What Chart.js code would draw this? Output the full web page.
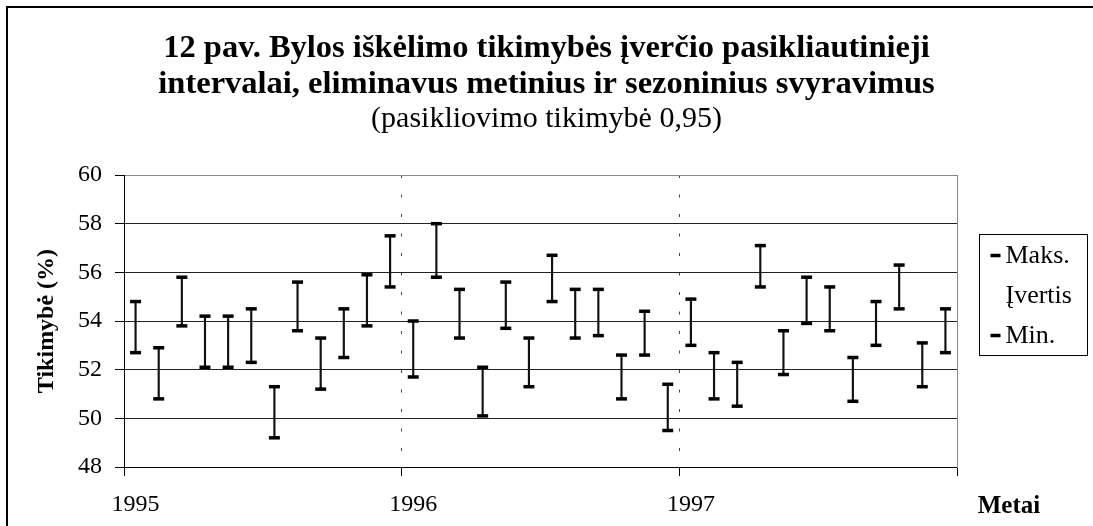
<!DOCTYPE html>
<html>
<head>
<meta charset="utf-8">
<script src="https://cdn.jsdelivr.net/npm/chart.js@4.4.1/dist/chart.umd.min.js"></script>
<style>
  html, body { margin: 0; padding: 0; background: #fff; overflow: hidden; }
  #frame { position: absolute; left: 6px; top: 6px; width: 1120px; height: 560px;
           border-left: 2px solid #000; border-top: 2px solid #000; }
  #wrap { position: absolute; left: 0; top: 0; width: 1093px; height: 526px; }
</style>
</head>
<body>
<div id="frame"></div>
<div id="wrap"><canvas id="c"></canvas></div>
<script>
const categories = [
  '1995-01','1995-02','1995-03','1995-04','1995-05','1995-06','1995-07','1995-08','1995-09','1995-10','1995-11','1995-12',
  '1996-01','1996-02','1996-03','1996-04','1996-05','1996-06','1996-07','1996-08','1996-09','1996-10','1996-11','1996-12',
  '1997-01','1997-02','1997-03','1997-04','1997-05','1997-06','1997-07','1997-08','1997-09','1997-10','1997-11','1997-12'
];
const yearLabels = ['1995', '1996', '1997'];
const maxValues = [54.8, 52.9, 55.8, 54.2, 54.2, 54.5, 51.3, 55.6, 53.3, 54.5, 55.9, 57.5,
                   54.0, 58.0, 55.3, 52.1, 55.6, 53.3, 56.7, 55.3, 55.3, 52.6, 54.4, 51.4,
                   54.9, 52.7, 52.3, 57.1, 53.6, 55.8, 55.4, 52.5, 54.8, 56.3, 53.1, 54.5];
const minValues = [52.7, 50.8, 53.8, 52.1, 52.1, 52.3, 49.2, 53.6, 51.2, 52.5, 53.8, 55.4,
                   51.7, 55.8, 53.3, 50.1, 53.7, 51.3, 54.8, 53.3, 53.4, 50.8, 52.6, 49.5,
                   53.0, 50.8, 50.5, 55.4, 51.8, 53.9, 53.6, 50.7, 53.0, 54.5, 51.3, 52.7];
const yTicks = { min: 48, max: 60, step: 2 };
const titleLines = ['12 pav. Bylos iškėlimo tikimybės įverčio pasikliautinieji',
                    'intervalai, eliminavus metinius ir sezoninius svyravimus'];
const subtitleText = '(pasikliovimo tikimybė 0,95)';
const yTitle = 'Tikimybė (%)';
const xTitle = 'Metai';

const SERIF = "'Liberation Serif', 'Times New Roman', serif";

const legendAndAxisText = {
  id: 'legendAndAxisText',
  afterDraw(chart) {
    const ctx = chart.ctx;
    const ca = chart.chartArea;
    ctx.save();
    const bx = ca.right + 22.5, by = ca.top + 59.5, bw = 108, bh = 121;
    ctx.strokeStyle = '#000';
    ctx.lineWidth = 1;
    ctx.strokeRect(bx, by, bw, bh);
    ctx.font = '26px ' + SERIF;
    ctx.fillStyle = '#000';
    ctx.textBaseline = 'middle';
    ctx.textAlign = 'left';
    chart.data.datasets.forEach((ds, i) => {
      const cy = by + 21 + i * 40;
      if (ds.type === 'line') {
        ctx.beginPath();
        ctx.lineWidth = 3.5;
        ctx.moveTo(bx + 11, cy);
        ctx.lineTo(bx + 21, cy);
        ctx.stroke();
      }
      ctx.fillText(ds.label, bx + 26, cy + 1);
    });
    ctx.font = 'bold 25px ' + SERIF;
    ctx.textAlign = 'center';
    ctx.textBaseline = 'alphabetic';
    ctx.fillText(xTitle, ca.right + 52, ca.bottom + 46);
    ctx.restore();
  }
};

new Chart(document.getElementById('c'), {
  data: {
    labels: categories,
    datasets: [
      { type: 'line', label: 'Maks.', data: maxValues, showLine: false, order: 0,
        pointStyle: 'line', pointRadius: 5.5, pointHoverRadius: 5.5,
        pointBorderWidth: 3.5, pointHoverBorderWidth: 3.5,
        borderColor: '#000', backgroundColor: '#000' },
      { type: 'bar', label: 'Įvertis', data: minValues.map((v, i) => [v, maxValues[i]]), order: 1,
        barThickness: 1.5, backgroundColor: '#111', borderWidth: 0 },
      { type: 'line', label: 'Min.', data: minValues, showLine: false, order: 0,
        pointStyle: 'line', pointRadius: 5.5, pointHoverRadius: 5.5,
        pointBorderWidth: 3.5, pointHoverBorderWidth: 3.5,
        borderColor: '#000', backgroundColor: '#000' }
    ]
  },
  options: {
    responsive: true,
    maintainAspectRatio: false,
    animation: false,
    events: [],
    layout: { padding: { top: 31, left: 0, right: 0, bottom: 0 } },
    plugins: {
      legend: { display: false },
      tooltip: { enabled: false },
      title: {
        display: true, text: titleLines, color: '#000',
        font: { family: SERIF, size: 32.5, weight: 'bold', lineHeight: 1.108 },
        padding: { top: 0, bottom: 0 }
      },
      subtitle: {
        display: true, text: subtitleText, color: '#000',
        font: { family: SERIF, size: 30, weight: 'normal', lineHeight: 1.1 },
        padding: { top: 0, bottom: 39 }
      }
    },
    scales: {
      x: {
        type: 'category', position: 'bottom', offset: true,
        grid: {
          offset: true,
          color: c => (c.index === 12 || c.index === 24) ? '#444' : 'transparent',
          tickColor: c => (c.index === undefined || c.index % 12 === 0) ? '#000' : 'transparent',
          tickLength: 9, lineWidth: 1
        },
        border: { color: '#000', width: 1, dash: [3, 16.5] },
        ticks: {
          autoSkip: false, maxRotation: 0, minRotation: 0, padding: 14, color: '#000',
          font: { family: SERIF, size: 24 },
          callback: (v, i) => (i % 12 === 0 ? yearLabels[i / 12] : '')
        },
        afterFit: s => { s.height = 59; }
      },
      y: {
        position: 'left', min: yTicks.min, max: yTicks.max,
        grid: {
          color: c => (c.tick && c.tick.value === yTicks.max) ? '#888' : '#222',
          tickColor: '#000', tickLength: 9, lineWidth: 1
        },
        border: { color: '#000', width: 1 },
        ticks: { stepSize: yTicks.step, padding: 13, color: '#000', font: { family: SERIF, size: 24 } },
        title: {
          display: true, text: yTitle, color: '#000',
          font: { family: SERIF, size: 24, weight: 'bold', lineHeight: 1.2 },
          padding: { top: 32, bottom: 0 }
        },
        afterFit: s => { s.width = 124; }
      },
      yRight: {
        position: 'right', min: yTicks.min, max: yTicks.max,
        ticks: { display: false },
        grid: { drawOnChartArea: false, drawTicks: false },
        border: { color: '#888', width: 1 },
        afterFit: s => { s.width = 136; }
      }
    }
  },
  plugins: [legendAndAxisText]
});
</script>
</body>
</html>
